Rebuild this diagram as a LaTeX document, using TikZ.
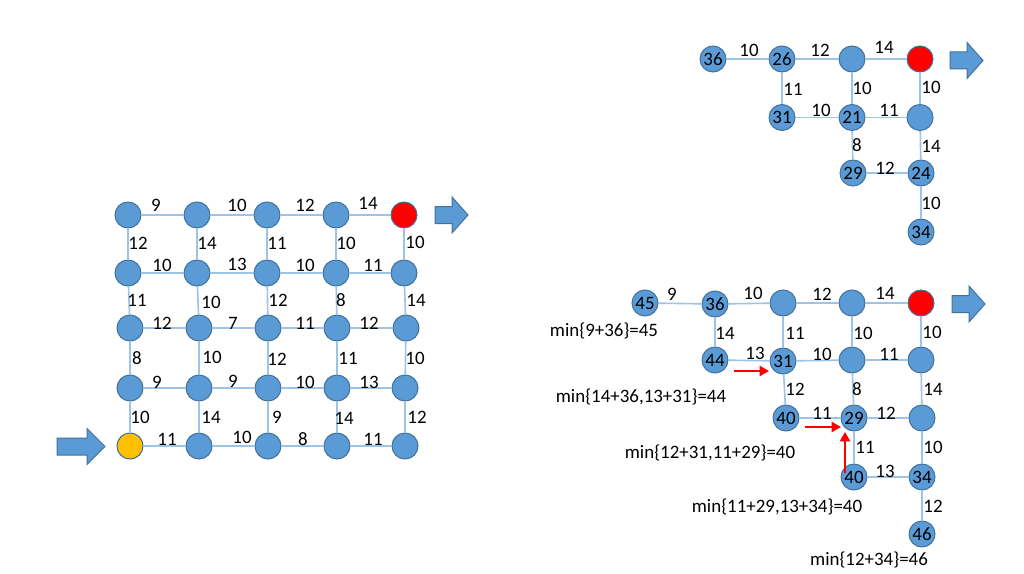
\documentclass[tikz,border=0pt]{standalone}
\usepackage{fontspec}
\setmainfont{Carlito}
\usetikzlibrary{arrows.meta}
\definecolor{nblue}{HTML}{5B9BD5}
\definecolor{nborder}{HTML}{41719C}
\definecolor{eblue}{HTML}{9DC3E6}
\definecolor{nred}{HTML}{FF0000}
\definecolor{nyel}{HTML}{FFC000}
\newcommand\blkarrow[4]{%
  \filldraw[fill=nblue,draw=nborder,line width=0.75pt]
   (#1,{#4-8.5}) -- (#3,{#4-8.5}) -- (#3,{#4-18}) -- (#2,#4) -- (#3,{#4+18}) -- (#3,{#4+8.5}) -- (#1,{#4+8.5}) -- cycle;}
\begin{document}
\begin{tikzpicture}[x=0.75pt,y=-0.75pt,
  every node/.style={font=\fontsize{14.2}{16}\selectfont},
  nd/.style={circle,fill=nblue,draw=nborder,line width=0.75pt,minimum size=19.5pt,inner sep=0pt},
  ndred/.style={nd,fill=nred},
  ndyel/.style={nd,fill=nyel},
  edge/.style={draw=eblue,line width=1.2pt},
  lbl/.style={inner sep=0pt,text=black},
  note/.style={inner sep=0pt,text=black},
  redarrow/.style={draw=nred,line width=2.2pt,-{Triangle[length=7pt,width=7.5pt]}}]
\useasboundingbox (0,0) rectangle (1024,574);
\fill[white] (0,0) rectangle (1024,574);

% ---------- left grid ----------
\node[nd] (g11) at (128,215) {};
\node[nd] (g12) at (197,215) {};
\node[nd] (g13) at (267,215) {};
\node[nd] (g14) at (336,215) {};
\node[ndred] (g15) at (404,215) {};
\node[nd] (g21) at (128,273) {};
\node[nd] (g22) at (197,273) {};
\node[nd] (g23) at (267,273) {};
\node[nd] (g24) at (336,273) {};
\node[nd] (g25) at (404,273) {};
\node[nd] (g31) at (130,328) {};
\node[nd] (g32) at (199,328) {};
\node[nd] (g33) at (268,328) {};
\node[nd] (g34) at (337,328) {};
\node[nd] (g35) at (406,328) {};
\node[nd] (g41) at (130,388) {};
\node[nd] (g42) at (199,388) {};
\node[nd] (g43) at (268,388) {};
\node[nd] (g44) at (337,388) {};
\node[nd] (g45) at (405,388) {};
\node[ndyel] (g51) at (130,446) {};
\node[nd] (g52) at (199,446) {};
\node[nd] (g53) at (268,446) {};
\node[nd] (g54) at (337,446) {};
\node[nd] (g55) at (405,446) {};

\draw[edge] (g11) -- (g12) node[lbl] at (156,205) {9};
\draw[edge] (g12) -- (g13) node[lbl] at (237,205) {10};
\draw[edge] (g13) -- (g14) node[lbl] at (305,205) {12};
\draw[edge] (g14) -- (g15) node[lbl] at (368,203) {14};
\draw[edge] (g21) -- (g22) node[lbl] at (162,265) {10};
\draw[edge] (g22) -- (g23) node[lbl] at (237,264) {13};
\draw[edge] (g23) -- (g24) node[lbl] at (305,265) {10};
\draw[edge] (g24) -- (g25) node[lbl] at (373,265) {11};
\draw[edge] (g31) -- (g32) node[lbl] at (162,323) {12};
\draw[edge] (g32) -- (g33) node[lbl] at (233,323) {7};
\draw[edge] (g33) -- (g34) node[lbl] at (305,323) {11};
\draw[edge] (g34) -- (g35) node[lbl] at (369,323) {12};
\draw[edge] (g41) -- (g42) node[lbl] at (157,382) {9};
\draw[edge] (g42) -- (g43) node[lbl] at (233,381) {9};
\draw[edge] (g43) -- (g44) node[lbl] at (305,382) {10};
\draw[edge] (g44) -- (g45) node[lbl] at (369,382) {13};
\draw[edge] (g51) -- (g52) node[lbl] at (167,439) {11};
\draw[edge] (g52) -- (g53) node[lbl] at (242,437) {10};
\draw[edge] (g53) -- (g54) node[lbl] at (303,439) {8};
\draw[edge] (g54) -- (g55) node[lbl] at (373,439) {11};

\draw[edge] (g11) -- (g21) node[lbl] at (138,243) {12};
\draw[edge] (g12) -- (g22) node[lbl] at (207,243) {14};
\draw[edge] (g13) -- (g23) node[lbl] at (277,243) {11};
\draw[edge] (g14) -- (g24) node[lbl] at (346,243) {10};
\draw[edge] (g15) -- (g25) node[lbl] at (415,242) {10};
\draw[edge] (g21) -- (g31) node[lbl] at (137,300) {11};
\draw[edge] (g22) -- (g32) node[lbl] at (211,302) {10};
\draw[edge] (g23) -- (g33) node[lbl] at (278,300) {12};
\draw[edge] (g24) -- (g34) node[lbl] at (341,300) {8};
\draw[edge] (g25) -- (g35) node[lbl] at (416,300) {14};
\draw[edge] (g31) -- (g41) node[lbl] at (137,358) {8};
\draw[edge] (g32) -- (g42) node[lbl] at (212,357) {10};
\draw[edge] (g33) -- (g43) node[lbl] at (277,359) {12};
\draw[edge] (g34) -- (g44) node[lbl] at (348,358) {11};
\draw[edge] (g35) -- (g45) node[lbl] at (415,358) {10};
\draw[edge] (g41) -- (g51) node[lbl] at (140,417) {10};
\draw[edge] (g42) -- (g52) node[lbl] at (211,417) {14};
\draw[edge] (g43) -- (g53) node[lbl] at (277,417) {9};
\draw[edge] (g44) -- (g54) node[lbl] at (344,418) {14};
\draw[edge] (g45) -- (g55) node[lbl] at (417,417) {12};

\blkarrow{57}{105}{87}{446.5}
\blkarrow{435}{468}{452}{215}

% ---------- top right ----------
\node[nd] (t36) at (713,59) {36};
\node[nd] (t26) at (782,59) {26};
\node[nd] (tA) at (852,59) {};
\node[ndred] (tR) at (920,59) {};
\node[nd] (t31) at (782,117.5) {31};
\node[nd] (t21) at (852,117.5) {21};
\node[nd] (tB) at (920,117.5) {};
\node[nd] (t29) at (853,173) {29};
\node[nd] (t24) at (921,173) {24};
\node[nd] (t34) at (921,232) {34};

\draw[edge] (t36) -- (t26) node[lbl] at (749,50) {10};
\draw[edge] (t26) -- (tA) node[lbl] at (820,50) {12};
\draw[edge] (tA) -- (tR) node[lbl] at (884,47) {14};
\draw[edge] (t26) -- (t31) node[lbl] at (793,89) {11};
\draw[edge] (tA) -- (t21) node[lbl] at (862,88) {10};
\draw[edge] (tR) -- (tB) node[lbl] at (931,87) {10};
\draw[edge] (t31) -- (t21) node[lbl] at (821,110) {10};
\draw[edge] (t21) -- (tB) node[lbl] at (889,110) {11};
\draw[edge] (t21) -- (t29) node[lbl] at (857,145) {8};
\draw[edge] (tB) -- (t24) node[lbl] at (931,146) {14};
\draw[edge] (t29) -- (t24) node[lbl] at (885,168) {12};
\draw[edge] (t24) -- (t34) node[lbl] at (931,203) {10};

\blkarrow{950}{983}{967}{60.5}

% ---------- bottom right ----------
\node[nd] (b45) at (645,303) {45};
\node[nd] (b36) at (715,304) {36};
\node[nd] (bA) at (783,303) {};
\node[nd] (bB) at (852,303) {};
\node[ndred] (bR) at (921,303) {};
\node[nd] (b44) at (715,360) {44};
\node[nd] (b31) at (783,361) {31};
\node[nd] (bC) at (852,360) {};
\node[nd] (bD) at (921,360) {};
\node[nd] (b40) at (786,418) {40};
\node[nd] (b29) at (854,418) {29};
\node[nd] (bE) at (922,418) {};
\node[nd] (b40b) at (854,477) {40};
\node[nd] (b34) at (922,477) {34};
\node[nd] (b46) at (922,534) {46};

\draw[edge] (b45) -- (b36) node[lbl] at (672,294) {9};
\draw[edge] (b36) -- (bA) node[lbl] at (753,293) {10};
\draw[edge] (bA) -- (bB) node[lbl] at (822,294) {12};
\draw[edge] (bB) -- (bR) node[lbl] at (885,293) {14};
\draw[edge] (b36) -- (b44) node[lbl] at (725,333) {14};
\draw[edge] (bA) -- (b31) node[lbl] at (795,333) {11};
\draw[edge] (bB) -- (bC) node[lbl] at (863,333) {10};
\draw[edge] (bR) -- (bD) node[lbl] at (932,332) {10};
\draw[edge] (b44) -- (b31) node[lbl] at (755,353) {13};
\draw[edge] (b31) -- (bC) node[lbl] at (822,354) {10};
\draw[edge] (bC) -- (bD) node[lbl] at (889,354) {11};
\draw[edge] (b31) -- (b40) node[lbl] at (795,389) {12};
\draw[edge] (bC) -- (b29) node[lbl] at (857,389) {8};
\draw[edge] (bD) -- (bE) node[lbl] at (933,389) {14};
\draw[edge] (b40) -- (b29) node[lbl] at (822,413) {11};
\draw[edge] (b29) -- (bE) node[lbl] at (886,413) {12};
\draw[edge] (b29) -- (b40b) node[lbl] at (865,447) {11};
\draw[edge] (bE) -- (b34) node[lbl] at (933,447) {10};
\draw[edge] (b40b) -- (b34) node[lbl] at (885,471) {13};
\draw[edge] (b34) -- (b46) node[lbl] at (933,506) {12};

\blkarrow{952}{985}{969}{304}

% red arrows
\coordinate (r1s) at (734,371); \coordinate (r1e) at (769,371);
\coordinate (r2s) at (805,427); \coordinate (r2e) at (841,427);
\coordinate (r3s) at (845,473); \coordinate (r3e) at (845,432);
\draw[redarrow] (r1s) -- (r1e);
\draw[redarrow] (r2s) -- (r2e);
\draw[redarrow] (r3s) -- (r3e);

% notes
\node[note] (m1) at (604,331) {min\{9+36\}=45};
\node[note] (m2) at (641,397) {min\{14+36,13+31\}=44};
\node[note] (m3) at (710,453) {min\{12+31,11+29\}=40};
\node[note] (m4) at (777,507) {min\{11+29,13+34\}=40};
\node[note] (m5) at (869,560) {min\{12+34\}=46};
\end{tikzpicture}
\end{document}
